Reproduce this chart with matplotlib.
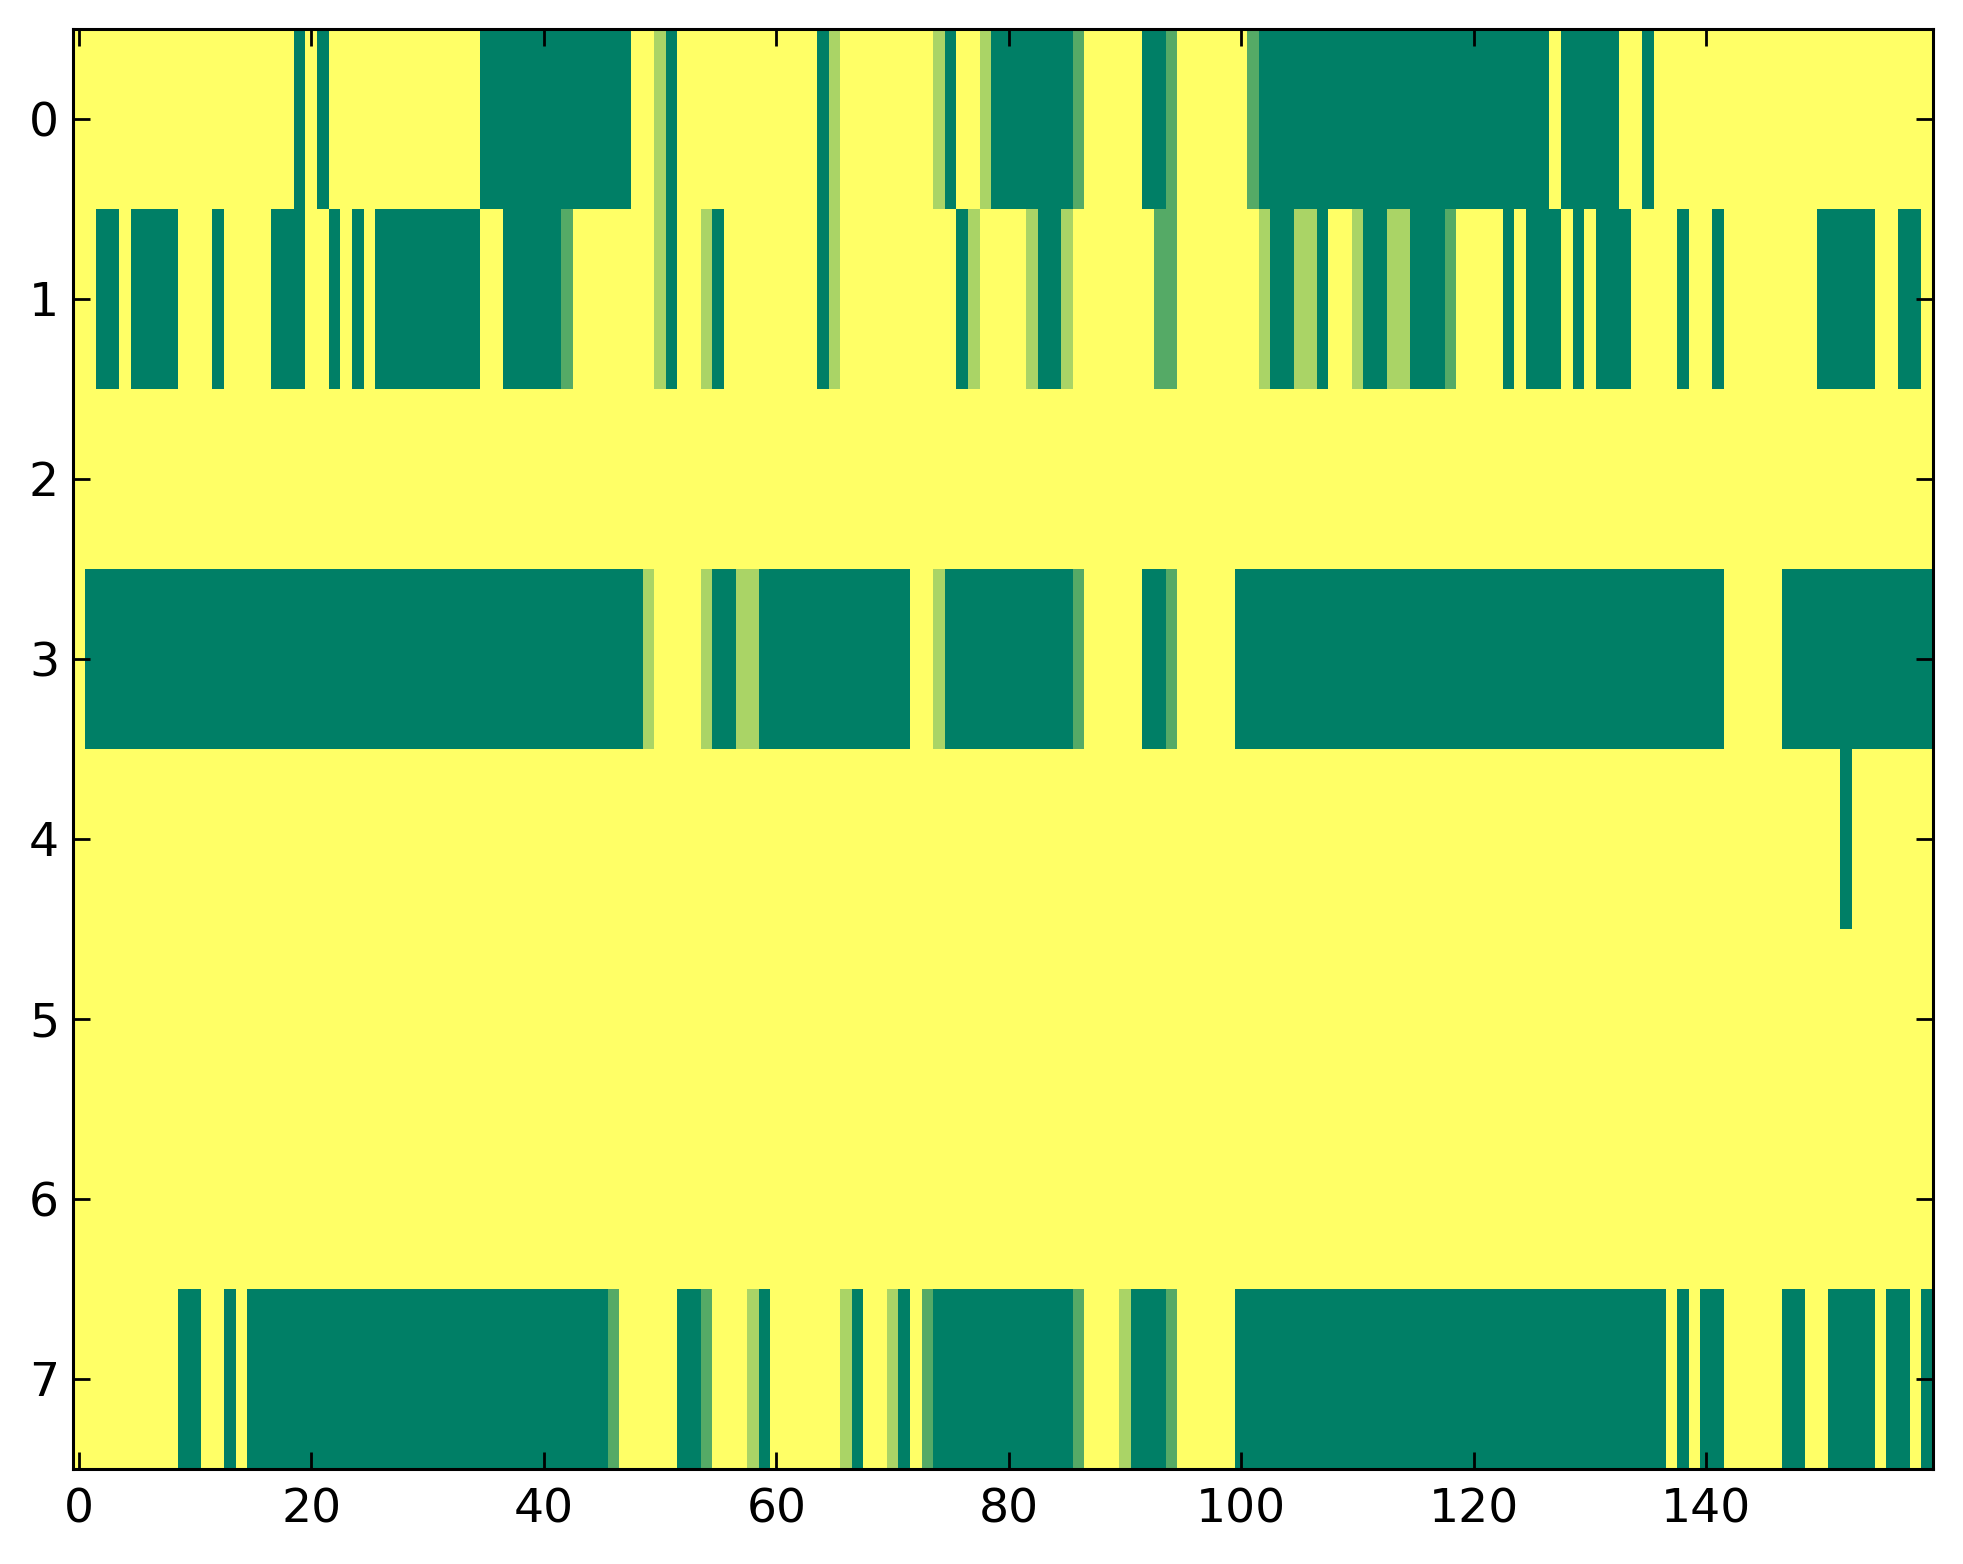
import numpy as np
import matplotlib
matplotlib.use("Agg")
import matplotlib.pyplot as plt

# each row: runs of (level, count); level 3 = yellow ... 0 = dark green
row0 = [(3, 19), (0, 1), (3, 1), (0, 1), (3, 13), (0, 13), (3, 2), (2, 1), (0, 1),
        (3, 12), (0, 1), (2, 1), (3, 8), (2, 1), (0, 1), (3, 2), (2, 1), (0, 7),
        (1, 1), (3, 5), (0, 2), (1, 1), (3, 6), (1, 1), (0, 25), (3, 1), (0, 5),
        (3, 2), (0, 1), (3, 24)]
row1 = [(3, 2), (0, 2), (3, 1), (0, 4), (3, 3), (0, 1), (3, 4), (0, 3), (3, 2),
        (0, 1), (3, 1), (0, 1), (3, 1), (0, 9), (3, 2), (0, 5), (1, 1), (3, 7),
        (2, 1), (0, 1), (3, 2), (2, 1), (0, 1), (3, 8), (0, 1), (2, 1), (3, 10),
        (0, 1), (2, 1), (3, 4), (2, 1), (0, 2), (2, 1), (3, 7), (1, 2), (3, 7),
        (2, 1), (0, 2), (2, 2), (0, 1), (3, 2), (2, 1), (0, 2), (2, 2), (0, 3),
        (1, 1), (3, 4), (0, 1), (3, 1), (0, 3), (3, 1), (0, 1), (3, 1), (0, 3),
        (3, 4), (0, 1), (3, 2), (0, 1), (3, 8), (0, 5), (3, 2), (0, 2), (3, 1)]
row2 = [(3, 160)]
row3 = [(3, 1), (0, 48), (2, 1), (3, 4), (2, 1), (0, 2), (2, 2), (0, 13), (3, 2),
        (2, 1), (0, 11), (1, 1), (3, 5), (0, 2), (1, 1), (3, 5), (0, 42), (3, 5),
        (0, 13)]
row4 = [(3, 152), (0, 1), (3, 7)]
row5 = [(3, 160)]
row6 = [(3, 160)]
row7 = [(3, 9), (0, 2), (3, 2), (0, 1), (3, 1), (0, 31), (1, 1), (3, 5), (0, 2),
        (1, 1), (3, 3), (2, 1), (0, 1), (3, 6), (2, 1), (0, 1), (3, 2), (2, 1),
        (0, 1), (3, 1), (1, 1), (0, 12), (1, 1), (3, 3), (2, 1), (0, 3), (1, 1),
        (3, 5), (0, 37), (3, 1), (0, 1), (3, 1), (0, 2), (3, 5), (0, 2), (3, 2),
        (0, 4), (3, 1), (0, 2), (3, 1), (0, 1)]

rows = [row0, row1, row2, row3, row4, row5, row6, row7]
xticks = [0, 20, 40, 60, 80, 100, 120, 140]
yticks = [0, 1, 2, 3, 4, 5, 6, 7]


def expand(runs):
    lev = [r[0] for r in runs]
    cnt = [r[1] for r in runs]
    return np.repeat(np.array(lev, dtype=float) / 3.0, cnt)


data = np.vstack([expand(r) for r in rows])

W, H = 1963, 1564
fig = plt.figure(figsize=(W / 200, H / 200), dpi=200)
ax = fig.add_axes([73 / W, 1 - 1469 / H, (1933 - 73) / W, (1469 - 29) / H])
ax.imshow(data, cmap="summer", vmin=0, vmax=1, aspect="auto", interpolation="nearest")

ax.set_xticks(xticks)
ax.set_yticks(yticks)
ax.tick_params(direction="in", top=True, right=True, length=6, width=1,
               labelsize=17)
ax.tick_params(axis="x", pad=6.5)
ax.tick_params(axis="y", pad=5)
for s in ax.spines.values():
    s.set_linewidth(1.1)

fig.savefig("out.png", dpi=200, facecolor="white")
